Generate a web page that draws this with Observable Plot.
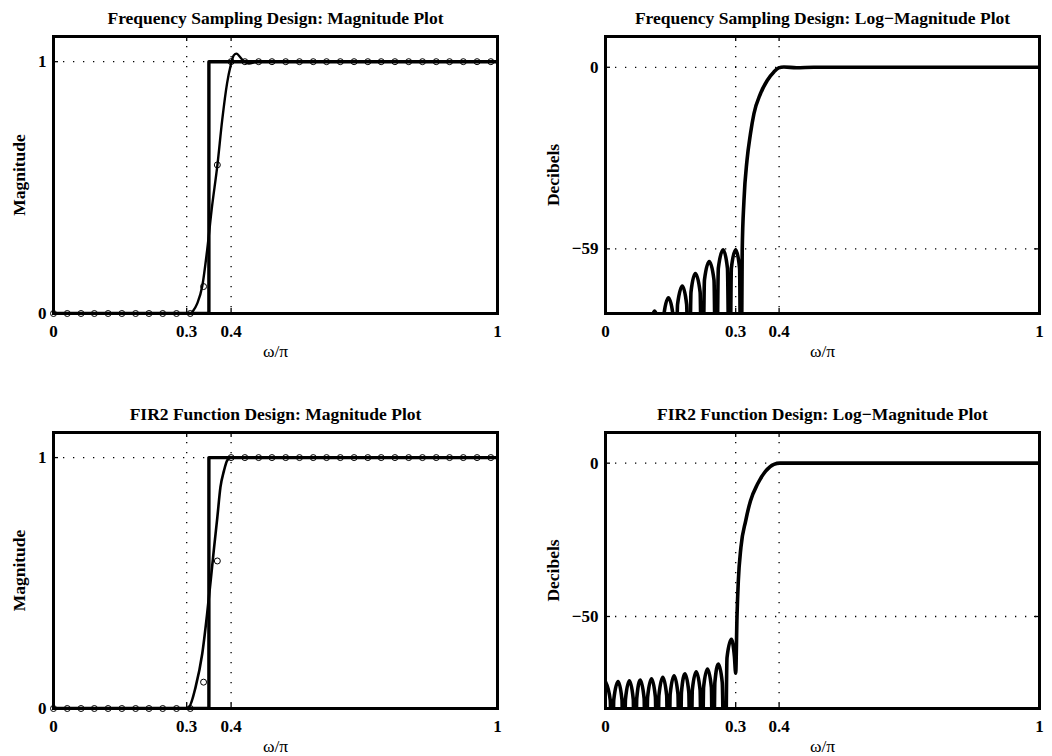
<!DOCTYPE html>
<html>
<head>
<meta charset="utf-8">
<script src="https://cdn.jsdelivr.net/npm/d3@7"></script>
<script src="https://cdn.jsdelivr.net/npm/@observablehq/plot@0.6"></script>
<style>
  html, body { margin: 0; padding: 0; background: #ffffff; }
  #root { position: relative; width: 1052px; height: 756px; background: #ffffff; overflow: hidden; }
  #root > svg { position: absolute; }
</style>
</head>
<body>
<div id="root"></div>
<script>
// ---------------- shared axis data ----------------
const xTicks = [0, 0.3, 0.4, 1];
const magTicks = [0, 1];
const fsDbTicks = [-59, 0];
const fir2DbTicks = [-50, 0];

// frequency samples (circles), omega/pi
const sampleW = [0, 0.031, 0.062, 0.092, 0.123, 0.154, 0.185, 0.215, 0.246, 0.277, 0.308,
  0.338, 0.369, 0.4, 0.431, 0.462, 0.492, 0.523, 0.554, 0.585, 0.615, 0.646, 0.677, 0.708,
  0.738, 0.769, 0.8, 0.831, 0.862, 0.892, 0.923, 0.954, 0.985];
const fsSampleMag = [0, 0, 0, 0, 0, 0, 0, 0, 0, 0, 0, 0.107, 0.59,
  1, 1, 1, 1, 1, 1, 1, 1, 1, 1, 1, 1, 1, 1, 1, 1, 1, 1, 1, 1];
const fir2SampleMag = [0, 0, 0, 0, 0, 0, 0, 0, 0, 0, 0, 0.105, 0.588,
  1, 1, 1, 1, 1, 1, 1, 1, 1, 1, 1, 1, 1, 1, 1, 1, 1, 1, 1, 1];

// ideal high-pass response
const idealW = [0, 0.35, 0.35, 1];
const idealMag = [0, 0, 1, 1];

// Frequency sampling design: magnitude curve
const fsMagW = [0, 0.31, 0.3124, 0.3236, 0.335, 0.346, 0.357, 0.369, 0.380, 0.391, 0.399, 0.406, 0.412, 0.425, 0.44, 0.46, 1];
const fsMag  = [0, 0, 0.005, 0.039, 0.108, 0.251, 0.424, 0.587, 0.769, 0.915, 0.985, 1.025, 1.032, 1.008, 0.993, 1.0, 1];

// Frequency sampling design: log-magnitude curve (nulls drawn at -120 dB, below the -80 dB floor)
const fsDbW = [0, 0.098,
  0.103, 0.113, 0.124, 0.129,
  0.134, 0.145, 0.156, 0.161,
  0.166, 0.177, 0.187, 0.192,
  0.197, 0.207, 0.218, 0.223,
  0.228, 0.239, 0.250, 0.255,
  0.260, 0.271, 0.281, 0.286,
  0.290, 0.300, 0.309, 0.312,
  0.315, 0.319, 0.326, 0.334, 0.342, 0.357, 0.373, 0.388, 0.399, 0.411, 0.44, 0.48, 1];
const fsDb = [-120, -120,
  -85.2, -79.2, -85.2, -120,
  -80.9, -74.9, -80.9, -120,
  -77.1, -71.1, -77.1, -120,
  -73.0, -67.0, -73.0, -120,
  -69.1, -63.1, -69.1, -120,
  -65.3, -59.3, -65.3, -120,
  -65.3, -59.3, -65.3, -120,
  -59.6, -43.4, -30.3, -21.6, -15.1, -8.6, -4.2, -1.5, -0.2, 0.1, -0.15, 0, 0];

// FIR2 design: magnitude curve
const fir2MagW = [0, 0.297, 0.305, 0.320, 0.335, 0.346, 0.354, 0.361, 0.369, 0.376, 0.384, 0.391, 0.399, 0.41, 1];
const fir2Mag  = [0, 0, 0.005, 0.085, 0.218, 0.377, 0.51, 0.63, 0.762, 0.882, 0.948, 0.988, 1.0, 1.0, 1];

// FIR2 design: log-magnitude curve (nulls drawn at -120 dB, below the -80 dB floor)
const fir2DbW = [0, 0.011, 0.015,
  0.019, 0.029, 0.038, 0.042,
  0.046, 0.055, 0.064, 0.068,
  0.072, 0.080, 0.089, 0.093,
  0.097, 0.106, 0.115, 0.119,
  0.123, 0.132, 0.141, 0.145,
  0.149, 0.158, 0.167, 0.171,
  0.175, 0.183, 0.192, 0.196,
  0.200, 0.209, 0.218, 0.222,
  0.226, 0.235, 0.244, 0.248,
  0.252, 0.260, 0.269, 0.275,
  0.280, 0.290, 0.297, 0.300,
  0.303, 0.306, 0.312, 0.323, 0.334, 0.350, 0.369, 0.388, 0.402, 1];
const fir2Db = [-71.3, -77.3, -120,
  -77.2, -71.2, -77.2, -120,
  -77.0, -71.0, -77.0, -120,
  -76.7, -70.7, -76.7, -120,
  -76.3, -70.3, -76.3, -120,
  -75.8, -69.8, -75.8, -120,
  -75.3, -69.3, -75.3, -120,
  -74.7, -68.7, -74.7, -120,
  -74.0, -68.0, -74.0, -120,
  -73.1, -67.1, -73.1, -120,
  -71.5, -65.5, -71.5, -120,
  -63.4, -57.4, -63.0, -68.5,
  -50.0, -38.5, -27.5, -18.8, -12.3, -6.9, -2.6, -0.4, 0, 0];

// ---------------- helpers ----------------
const FONT = "'Liberation Serif','Times New Roman',Times,serif";
const zip = (xs, ys) => xs.map((x, i) => ({x, y: ys[i]}));
const fmt = d => (d < 0 ? "\u2212" + Math.abs(d) : String(d));

function panel(cfg) {
  const W = 526, H = 378;
  const innerW = W - cfg.ml - cfg.mr;
  const innerH = H - cfg.mt - cfg.mb;
  const dotted = {stroke: "black", strokeOpacity: 1, strokeWidth: 1.3, strokeDasharray: "1.3,8.7"};
  const svg = Plot.plot({
    width: W, height: H,
    marginLeft: cfg.ml, marginRight: cfg.mr, marginTop: cfg.mt, marginBottom: cfg.mb,
    x: {domain: [0, 1]},
    y: {domain: cfg.yDomain},
    style: {fontFamily: FONT, fontSize: "17px", fontWeight: "bold", color: "black", background: "white", overflow: "visible"},
    marks: [
      Plot.gridX({ticks: xTicks, ...dotted}),
      Plot.gridY({ticks: cfg.yTicks, ...dotted}),
      Plot.ruleX(xTicks, {insetTop: innerH - 5, stroke: "black", strokeWidth: 1.3}),
      Plot.ruleX(xTicks, {insetBottom: innerH - 5, stroke: "black", strokeWidth: 1.3}),
      Plot.ruleY(cfg.yTicks, {insetRight: innerW - 5, stroke: "black", strokeWidth: 1.3}),
      Plot.ruleY(cfg.yTicks, {insetLeft: innerW - 5, stroke: "black", strokeWidth: 1.3}),
      ...cfg.marks,
      Plot.frame({stroke: "black", strokeWidth: 3}),
      Plot.axisX({ticks: xTicks, tickSize: 0, tickPadding: 11, tickFormat: fmt, label: null}),
      Plot.axisY({ticks: cfg.yTicks, tickSize: 0, tickPadding: 7, tickFormat: fmt, label: null}),
      Plot.text([cfg.title], {frameAnchor: "top", dy: -18.4, lineAnchor: "middle", textAnchor: "middle", fontWeight: "bold", fontSize: 17.5}),
      Plot.text(["\u03c9/\u03c0"], {frameAnchor: "bottom", dy: 38, lineAnchor: "middle", textAnchor: "middle", fontWeight: "normal", fontSize: 17.5}),
      Plot.text([cfg.ylabel], {frameAnchor: "left", dx: cfg.ylabelDx, rotate: -90, lineAnchor: "middle", textAnchor: "middle", fontWeight: "bold", fontSize: 17.5})
    ]
  });
  svg.style.left = cfg.left + "px";
  svg.style.top = cfg.top + "px";
  document.getElementById("root").appendChild(svg);
}

const lineStyle = {x: "x", y: "y", stroke: "black", clip: true};

// Top-left
panel({
  left: 0, top: 0, ml: 53, mr: 29, mt: 36, mb: 65,
  yDomain: [0, 1.1], yTicks: magTicks,
  title: "Frequency Sampling Design: Magnitude Plot", ylabel: "Magnitude", ylabelDx: -34,
  marks: [
    Plot.line(zip(idealW, idealMag), {...lineStyle, strokeWidth: 3.4}),
    Plot.line(zip(fsMagW, fsMag), {...lineStyle, strokeWidth: 2.4, curve: "monotone-x"}),
    Plot.dot(zip(sampleW, fsSampleMag), {x: "x", y: "y", r: 3, stroke: "black", strokeWidth: 1, fill: "none"})
  ]
});

// Top-right
panel({
  left: 526, top: 0, ml: 79, mr: 13, mt: 36, mb: 65,
  yDomain: [-80, 10], yTicks: fsDbTicks,
  title: "Frequency Sampling Design: Log\u2212Magnitude Plot", ylabel: "Decibels", ylabelDx: -52,
  marks: [
    Plot.line(zip(fsDbW, fsDb), {...lineStyle, strokeWidth: 3.6, curve: "monotone-x"})
  ]
});

// Bottom-left
panel({
  left: 0, top: 378, ml: 53, mr: 29, mt: 54, mb: 48,
  yDomain: [0, 1.1], yTicks: magTicks,
  title: "FIR2 Function Design: Magnitude Plot", ylabel: "Magnitude", ylabelDx: -34,
  marks: [
    Plot.line(zip(idealW, idealMag), {...lineStyle, strokeWidth: 3.4}),
    Plot.line(zip(fir2MagW, fir2Mag), {...lineStyle, strokeWidth: 2.6, curve: "monotone-x"}),
    Plot.dot(zip(sampleW, fir2SampleMag), {x: "x", y: "y", r: 3, stroke: "black", strokeWidth: 1, fill: "none"})
  ]
});

// Bottom-right
panel({
  left: 526, top: 378, ml: 79, mr: 13, mt: 54, mb: 48,
  yDomain: [-80, 10], yTicks: fir2DbTicks,
  title: "FIR2 Function Design: Log\u2212Magnitude Plot", ylabel: "Decibels", ylabelDx: -52,
  marks: [
    Plot.line(zip(fir2DbW, fir2Db), {...lineStyle, strokeWidth: 3.6, curve: "monotone-x"})
  ]
});
</script>
</body>
</html>
